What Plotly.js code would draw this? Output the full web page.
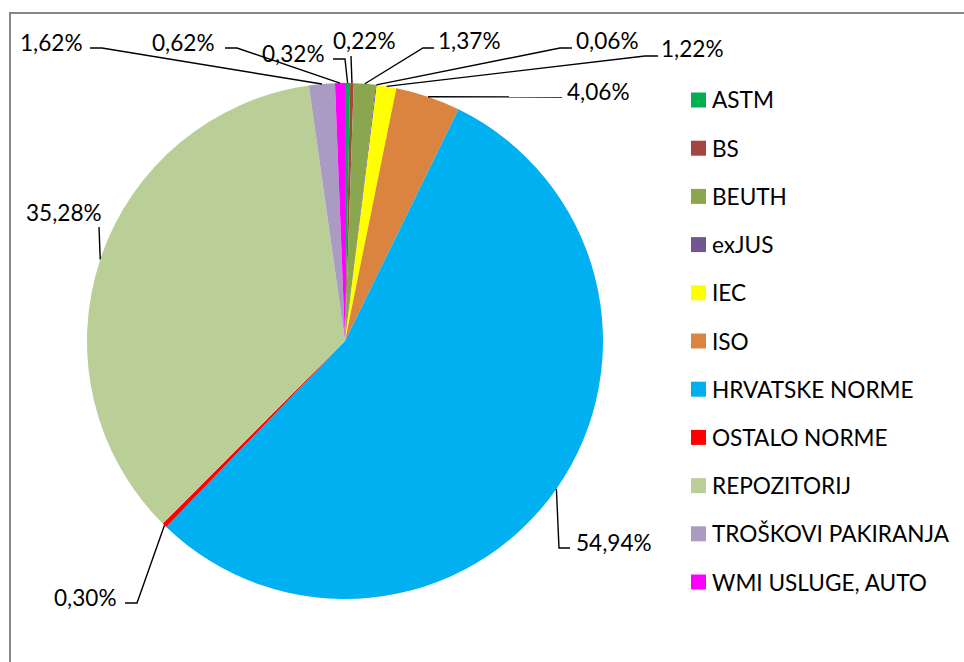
<!DOCTYPE html>
<html>
<head>
<meta charset="utf-8">
<script src="https://cdn.plot.ly/plotly-3.0.1.min.js"></script>
<style>
  html, body { margin: 0; padding: 0; background: #fff; }
  #chart { width: 964px; height: 662px; }
</style>
</head>
<body>
<div id="chart"></div>
<script>
var categories = ['ASTM', 'BS', 'BEUTH', 'exJUS', 'IEC', 'ISO', 'HRVATSKE NORME',
                  'OSTALO NORME', 'REPOZITORIJ', 'TROŠKOVI PAKIRANJA', 'WMI USLUGE, AUTO'];
var shares = [0.32, 0.22, 1.37, 0.06, 1.22, 4.06, 54.94, 0.30, 35.28, 1.62, 0.62];
var sliceColors = ['#00B050', '#A6443F', '#8AA64E', '#71578F', '#FFFF00', '#DB843F',
                   '#00B0F0', '#FF0000', '#BACE98', '#A99BC2', '#FF00FF'];

var W = 964, H = 662;
var pie = {cx: 345, cy: 341, r: 258};
var fontFam = 'Lato, "Open Sans", sans-serif';
var fontSize = 22.6;
var textPad = 3; // annotation box padding, so text lands where it should

// where each data label sits (px): text left edge + middle, and the bends of its leader line
var labelPlace = [
  {tx: 263, ty: 53, bend: [[345, 59], [333, 59]]},
  {tx: 334, ty: 41, bend: [[351, 56]]},
  {tx: 439, ty: 41, bend: [[423, 48], [434, 48]]},
  {tx: 577, ty: 41, bend: [[560, 48], [572, 48]]},
  {tx: 662, ty: 49, bend: [[645, 56], [658, 56]]},
  {tx: 568, ty: 92, bend: [[562, 97]]},
  {tx: 577, ty: 542, bend: [[559, 548], [570, 548]]},
  {tx: 55, ty: 597, bend: [[137, 603], [125, 603]]},
  {tx: 27, ty: 212, bend: [[99, 227]]},
  {tx: 21, ty: 42, bend: [[102, 48], [90, 48]]},
  {tx: 153, ty: 42, bend: [[237, 48], [225, 48]]}
];

function px(x) { return x / W; }
function py(y) { return 1 - y / H; }
function fmt(v) { return v.toFixed(2).replace('.', ',') + '%'; }

var total = shares.reduce(function (a, b) { return a + b; }, 0);

var shapes = [];
var annotations = [];

// outer chart border (runs off the right and bottom edges)
shapes.push({
  type: 'rect', xref: 'paper', yref: 'paper',
  x0: px(10), x1: 1.02, y0: -0.02, y1: py(13),
  line: {color: '#878787', width: 2}
});

// data labels with leader lines from the middle of each slice's rim
var cum = 0;
shares.forEach(function (v, i) {
  var mid = (cum + v / 2) / total * 2 * Math.PI;
  cum += v;
  var ax = pie.cx + pie.r * Math.sin(mid);
  var ay = pie.cy - pie.r * Math.cos(mid);
  var p = labelPlace[i];
  var path = 'M' + px(ax) + ',' + py(ay);
  p.bend.forEach(function (b) { path += ' L' + px(b[0]) + ',' + py(b[1]); });
  shapes.push({
    type: 'path', xref: 'paper', yref: 'paper', path: path,
    line: {color: '#000', width: 1.4}
  });
  annotations.push({
    xref: 'paper', yref: 'paper', x: px(p.tx - textPad), y: py(p.ty),
    xanchor: 'left', yanchor: 'middle', showarrow: false,
    text: fmt(v), font: {family: fontFam, size: fontSize, color: '#000'}
  });
});

// legend on the right
categories.forEach(function (c, i) {
  var yc = 100 + i * 48.2;
  shapes.push({
    type: 'rect', xref: 'paper', yref: 'paper',
    x0: px(691), x1: px(706), y0: py(yc + 7.5), y1: py(yc - 7.5),
    fillcolor: sliceColors[i], line: {width: 0}
  });
  annotations.push({
    xref: 'paper', yref: 'paper', x: px(713 - textPad), y: py(yc),
    xanchor: 'left', yanchor: 'middle', showarrow: false,
    text: c, font: {family: fontFam, size: fontSize, color: '#000'}
  });
});

var trace = {
  type: 'pie',
  labels: categories,
  values: shares,
  sort: false,
  direction: 'clockwise',
  rotation: 0,
  textinfo: 'none',
  hoverinfo: 'label+percent',
  showlegend: false,
  marker: {colors: sliceColors, line: {width: 0}},
  domain: {
    x: [px(pie.cx - pie.r), px(pie.cx + pie.r)],
    y: [py(pie.cy + pie.r), py(pie.cy - pie.r)]
  }
};

var layout = {
  width: W,
  height: H,
  margin: {l: 0, r: 0, t: 0, b: 0},
  paper_bgcolor: '#fff',
  showlegend: false,
  shapes: shapes,
  annotations: annotations
};

Plotly.newPlot('chart', [trace], layout, {displayModeBar: false, staticPlot: true});
</script>
</body>
</html>
